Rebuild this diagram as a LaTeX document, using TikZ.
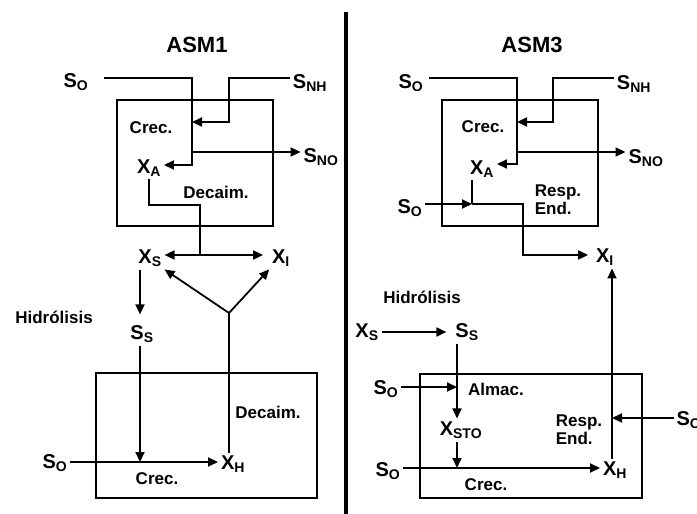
\documentclass[tikz,border=0pt]{standalone}
\usepackage{fontspec}
\setmainfont{Liberation Sans}
\usetikzlibrary{arrows.meta, calc, positioning}

\newcommand{\lsub}[1]{\textsubscript{#1}}

\tikzset{
  lbl/.style={font=\fontsize{20}{22}\selectfont\bfseries, inner sep=0pt, outer sep=3pt},
  txt/.style={font=\fontsize{17}{18}\selectfont\bfseries, align=left, inner sep=0pt},
  ttl/.style={font=\fontsize{22}{24}\selectfont\bfseries},
  flow/.style={draw, line width=1.8pt},
  arr/.style={flow, -{Triangle[length=10pt,width=9pt]}},
  arrtwo/.style={flow, {Triangle[length=10pt,width=9pt]}-{Triangle[length=10pt,width=9pt]}},
  reactor/.style={draw, line width=2.4pt},
}

\begin{document}
\begin{tikzpicture}[x=1pt, y=-1pt]
    \useasboundingbox (0,0) rectangle (697,514);

    % ASM1 panel
    \node[ttl] (asm1) at (197,45) {ASM1};
    \draw[reactor] (117,100) rectangle (273,226);
    \draw[reactor] (96,373) rectangle (317,498);

    \node[lbl] (soA) at (76,82) {S\lsub{O}};
    \node[lbl] (snhA) at (310,83) {S\lsub{NH}};
    \node[lbl] (snoA) at (321,157) {S\lsub{NO}};
    \node[lbl] (xaA) at (149,168) {X\lsub{A}};
    \node[txt] (crecA) at (151,128) {Crec.};
    \node[txt] (decA) at (216,192) {Decaim.};
    \node[lbl] (xsA) at (150,258) {X\lsub{S}};
    \node[lbl] (xiA) at (281,258) {X\lsub{I}};
    \node[txt] (hidA) at (54,317) {Hidrólisis};
    \node[lbl] (ssA) at (142,334) {S\lsub{S}};
    \node[lbl] (soA2) at (55,463) {S\lsub{O}};
    \node[lbl] (xhA) at (233,464) {X\lsub{H}};
    \node[txt] (decA2) at (268,412) {Decaim.};
    \node[txt] (crecA2) at (157,479) {Crec.};

    \coordinate (a1) at (192,78);
    \coordinate (a2) at (192,165);
    \coordinate (a3) at (229,78);
    \coordinate (a4) at (192,122);
    \coordinate (a5) at (192,152);
    \coordinate (a6) at (200,205);
    \coordinate (a7) at (200,255);
    \coordinate (a8) at (229,313);
    \coordinate (a9) at (140,462);

    \draw[arr, shorten <=13pt] (soA.east |- a1) -- (a1) -- (a2) -- (a2 -| xaA.east);
    \draw[arr] (snhA.west |- a3) -- (a3) |- (a4);
    \draw[arr] (a5) -- (a5 -| snoA.west);
    \draw[flow] (xaA.south) |- (a6) -- (a7);
    \draw[arrtwo, shorten >=6pt] (xsA.east |- a7) -- (xiA.west |- a7);
    \draw[arr, shorten >=8pt] (xsA.south -| a9) -- (ssA.north -| a9);
    \draw[arr] (ssA.south -| a9) -- (a9);
    \draw[arr] (soA2.east |- a9) -- (a9 -| xhA.west);
    \draw[flow] (xhA.north -| a8) -- (a8);
    \draw[arr] (a8) -- (xsA.south east);
    \draw[arr] (a8) -- (xiA.south west);

    % divider
    \draw[line width=4pt] (346,12) -- (346,514);

    % ASM3 panel
    \node[ttl] (asm3) at (532,45) {ASM3};
    \draw[reactor] (442,100) rectangle (598,226);
    \draw[reactor] (420,374) rectangle (642,498);

    \node[lbl] (soB) at (411,83) {S\lsub{O}};
    \node[lbl] (snhB) at (634,84) {S\lsub{NH}};
    \node[lbl] (snoB) at (646,158) {S\lsub{NO}};
    \node[lbl] (xaB) at (482,169) {X\lsub{A}};
    \node[txt] (crecB) at (483,127) {Crec.};
    \node[txt] (respB) at (558,200) {Resp.\\End.};
    \node[lbl] (soC) at (410,208) {S\lsub{O}};
    \node[lbl] (xiB) at (605,257) {X\lsub{I}};
    \node[txt] (hidB) at (422,297) {Hidrólisis};
    \node[lbl] (xsB) at (367,332) {X\lsub{S}};
    \node[lbl] (ssB) at (467,332) {S\lsub{S}};
    \node[lbl] (soD) at (386,389) {S\lsub{O}};
    \node[txt] (almB) at (496,389) {Almac.};
    \node[lbl] (xstoB) at (461,430) {X\lsub{STO}};
    \node[lbl] (soE) at (388,471) {S\lsub{O}};
    \node[lbl] (xhB) at (615,470) {X\lsub{H}};
    \node[txt] (crecB2) at (486,485) {Crec.};
    \node[txt] (respB2) at (579,430) {Resp.\\End.};
    \node[lbl] (soF) at (689,420) {S\lsub{O}};

    \coordinate (b1) at (517,78);
    \coordinate (b2) at (517,164);
    \coordinate (b3) at (553,78);
    \coordinate (b4) at (517,122);
    \coordinate (b5) at (517,152);
    \coordinate (b6) at (472,204);
    \coordinate (b7) at (523,204);
    \coordinate (b8) at (523,255);
    \coordinate (b9) at (457,387);
    \coordinate (b10) at (457,468);
    \coordinate (b11) at (612,418);

    \draw[arr, shorten <=3pt] (soB.east |- b1) -- (b1) -- (b2) -- (b2 -| xaB.east);
    \draw[arr] (snhB.west |- b3) -- (b3) |- (b4);
    \draw[arr] (b5) -- (b5 -| snoB.west);
    \draw[flow] (xaB.south -| b6) -- (b6);
    \draw[arr] (soC.east |- b6) -- (b6);
    \draw[arr, shorten >=5pt] (b6) -- (b7) -- (b8) -- (b8 -| xiB.west);
    \draw[arr, shorten >=6pt] (xsB.east) -- (ssB.west);
    \draw[arr] (ssB.south -| b9) -- (xstoB.north -| b9);
    \draw[arr] (soD.east |- b9) -- (b9);
    \draw[arr] (xstoB.south -| b10) -- (b10);
    \draw[arr] (soE.east |- b10) -- (b10 -| xhB.west);
    \draw[arr] (xhB.north -| b11) -- (xiB.south -| b11);
    \draw[arr] (soF.west |- b11) -- (b11);
\end{tikzpicture}
\end{document}
